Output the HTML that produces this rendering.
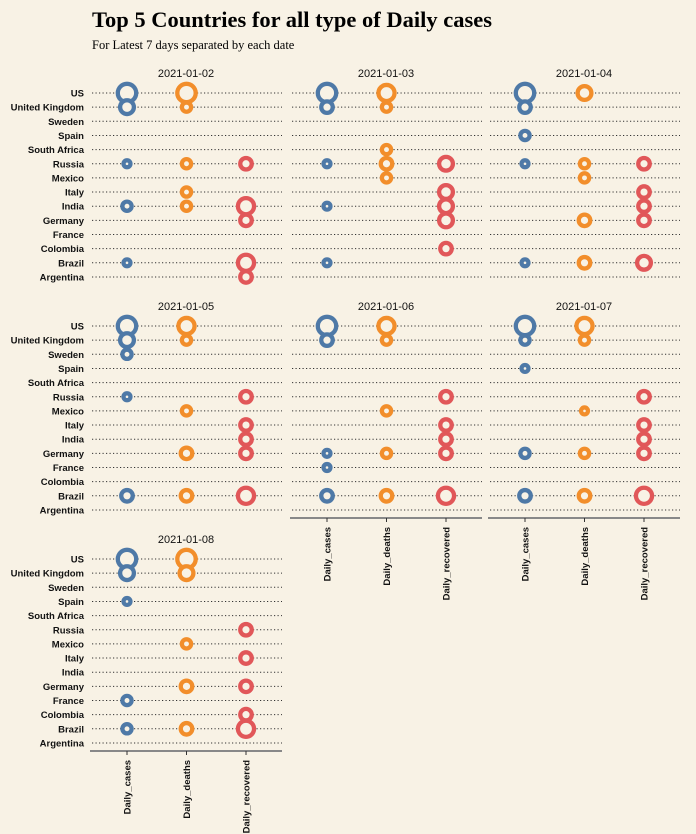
<!DOCTYPE html>
<html><head><meta charset="utf-8"><style>
html,body{margin:0;padding:0;background:#f8f2e5;}
svg{display:block;font-family:"Liberation Sans",sans-serif;}
</style></head><body>
<svg id="c" width="696" height="834" viewBox="0 0 696 834">
<rect width="696" height="834" fill="#f8f2e5"/>
<text x="92" y="27" font-family="Liberation Serif,serif" font-weight="bold" font-size="22.5" fill="#000">Top 5 Countries for all type of Daily cases</text>
<text x="92" y="49" font-family="Liberation Serif,serif" font-size="12.5" fill="#000">For Latest 7 days separated by each date</text>
</svg>
<script>
const countries = ["US","United Kingdom","Sweden","Spain","South Africa","Russia","Mexico","Italy","India","Germany","France","Colombia","Brazil","Argentina"];
const metrics = ["Daily_cases","Daily_deaths","Daily_recovered"];
const dates = ["2021-01-02","2021-01-03","2021-01-04","2021-01-05","2021-01-06","2021-01-07","2021-01-08"];
// relative magnitudes per date: [metric][country] (0 = not in top 5)
const d0102 = [[4,3,0,0,0,1.5,0,0,2,0,0,0,1.5,0],[4,2,0,0,0,2,0,2,2,0,0,0,0,0],[0,0,0,0,0,2.5,0,0,3.5,2.5,0,0,3.5,2.5]];
const d0103 = [[4,2.5,0,0,0,1.5,0,0,1.5,0,0,0,1.5,0],[3.5,2,0,0,2,2.5,2,0,0,0,0,0,0,0],[0,0,0,0,0,3,0,3,3,3,0,2.5,0,0]];
const d0104 = [[4,2.5,0,2,0,1.5,0,0,0,0,0,0,1.5,0],[3,0,0,0,0,2,2,0,0,2.5,0,0,2.5,0],[0,0,0,0,0,2.5,0,2.5,2.5,2.5,0,0,3,0]];
const d0105 = [[4,3,2,0,0,1.5,0,0,0,0,0,0,2.5,0],[3.5,2,0,0,0,0,2,0,0,2.5,0,0,2.5,0],[0,0,0,0,0,2.5,0,2.5,2.5,2.5,0,0,3.5,0]];
const d0106 = [[4,2.5,0,0,0,0,0,0,0,1.5,1.5,0,2.5,0],[3.5,2,0,0,0,0,2,0,0,2,0,0,2.5,0],[0,0,0,0,0,2.5,0,2.5,2.5,2.5,0,0,3.5,0]];
const d0107 = [[4,2,0,1.5,0,0,0,0,0,2,0,0,2.5,0],[3.5,2,0,0,0,0,1.5,0,0,2,0,0,2.5,0],[0,0,0,0,0,2.5,0,2.5,2.5,2.5,0,0,3.5,0]];
const d0108 = [[4,3,0,1.5,0,0,0,0,0,0,2,0,2,0],[4,3,0,0,0,0,2,0,0,2.5,0,0,2.5,0],[0,0,0,0,0,2.5,0,2.5,0,2.5,0,2.5,3.5,0]];
const panelData = [d0102,d0103,d0104,d0105,d0106,d0107,d0108];
const colors = ["#4e79a7","#f28e2b","#e15759"];

const svg = document.getElementById('c');
const NS = "http://www.w3.org/2000/svg";
function mk(tag, attrs, parent){const e=document.createElementNS(NS,tag);for(const k in attrs)e.setAttribute(k,attrs[k]);(parent||svg).appendChild(e);return e;}
const panelX = [90,290,488], panelW = 192;
const panelY = [93,326,559], rowStep = 14.15;
const withAxis = [false,false,false,false,true,true,true];
function rScale(v){return 2.3*v;}

panelData.forEach((pd,pi)=>{
  const col = pi%3, row = Math.floor(pi/3);
  const x0 = panelX[col], y0 = panelY[row];
  const g = mk('g',{});
  
  
  const yPos = i => y0 + i*rowStep;
  const xPos = m => x0 + 37 + m*59.5;
  const t = mk('text',{x:x0+panelW/2, y:y0-16, 'text-anchor':'middle','font-size':'11',fill:'#111'},g);
  t.textContent = dates[pi];
  
  
  countries.forEach((c,i)=>{
    const ln = mk('line',{x1:x0+2,x2:x0+panelW,y1:yPos(i),y2:yPos(i),stroke:'#333','stroke-width':'1','stroke-dasharray':'1.2 2.3'},g);
    
    
    if(col===0){
      const lb = mk('text',{x:x0-6,y:yPos(i)+3.5,'text-anchor':'end','font-size':'9.5','font-weight':'bold',fill:'#111'},g);
      lb.textContent = c;
      
      
    }
  });
  pd.forEach((vals,m)=>{
    vals.forEach((v,i)=>{
      if(!v) return;
      const ci = mk('circle',{cx:xPos(m),cy:yPos(i),r:rScale(v),fill:'#f8f2e5',stroke:colors[m],'stroke-width':'4.3'},g);
      
      
    });
  });
  if(withAxis[pi]){
    const ay = yPos(13)+8;
    const ax = mk('line',{x1:x0,x2:x0+panelW,y1:ay,y2:ay,stroke:'#888','stroke-width':'2'},g);
    
    
    metrics.forEach((mt,m)=>{
      const tk = mk('line',{x1:xPos(m),x2:xPos(m),y1:ay,y2:ay+4,stroke:'#333','stroke-width':'1'},g);
      
      
      const tl = mk('text',{transform:`translate(${xPos(m)+3.5},${ay+9}) rotate(-90)`,'text-anchor':'end','font-size':'9.5','font-weight':'bold',fill:'#111'},g);
      tl.textContent = mt;
      
      
    });
  }
});
</script>
</body></html>
